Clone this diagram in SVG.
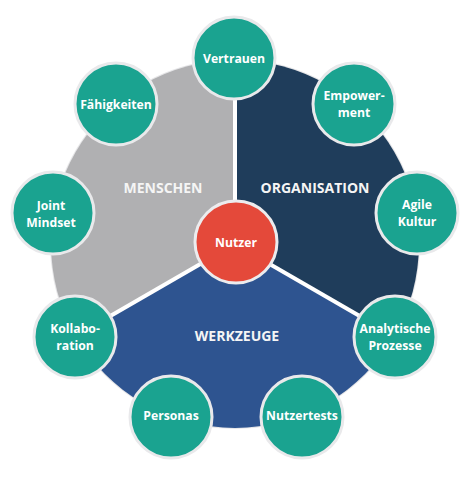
<svg xmlns="http://www.w3.org/2000/svg" width="474" height="481" viewBox="0 0 474 481">
<style>
.node circle{fill:#1aa390;stroke:#e9e9eb;stroke-width:3}
.node text,.hub text{font-family:"Open Sans","Liberation Sans",sans-serif;font-weight:700;font-size:12.2px;fill:#ffffff;text-anchor:middle}
.sec{font-family:"Open Sans","Liberation Sans",sans-serif;font-weight:700;font-size:14px;fill:#f5f5f5;text-anchor:middle}
.div{stroke:#ffffff;stroke-width:4}
</style>
<rect width="474" height="481" fill="#ffffff"/>
<g id="disc">
<circle cx="235" cy="244" r="185" fill="#e6e6e8"/>
<path id="organisation" d="M235,244 L235,60 A184,184 0 0 1 394.3,336 Z" fill="#1f3d5b"/>
<path id="werkzeuge" d="M235,244 L394.3,336 A184,184 0 0 1 75.7,336 Z" fill="#2e5490"/>
<path id="menschen" d="M235,244 L75.7,336 A184,184 0 0 1 235,60 Z" fill="#b0b0b2"/>
</g>
<g id="connectors">
<line class="div" x1="235" y1="244" x2="235" y2="58"/>
<line class="div" x1="235" y1="244" x2="396" y2="337"/>
<line class="div" x1="235" y1="244" x2="74" y2="337"/>
</g>
<text class="sec" x="163" y="193">MENSCHEN</text>
<text class="sec" x="315" y="193">ORGANISATION</text>
<text class="sec" x="237" y="341">WERKZEUGE</text>
<g id="vertrauen" class="node"><circle cx="234" cy="58" r="41"/><text x="234" y="63">Vertrauen</text></g>
<g id="empowerment" class="node"><circle cx="354" cy="104" r="41"/><text x="354" y="100">Empower-</text><text x="354" y="117">ment</text></g>
<g id="agile" class="node"><circle cx="417" cy="213" r="41"/><text x="417" y="209">Agile</text><text x="417" y="226">Kultur</text></g>
<g id="analytische" class="node"><circle cx="395" cy="337" r="41"/><text x="395" y="333">Analytische</text><text x="395" y="350">Prozesse</text></g>
<g id="nutzertests" class="node"><circle cx="302" cy="417" r="41"/><text x="302" y="420">Nutzertests</text></g>
<g id="personas" class="node"><circle cx="171" cy="417" r="41"/><text x="171" y="420">Personas</text></g>
<g id="kollaboration" class="node"><circle cx="75" cy="337" r="41"/><text x="75" y="333">Kollabo-</text><text x="75" y="350">ration</text></g>
<g id="joint" class="node"><circle cx="53" cy="213" r="41"/><text x="51" y="210">Joint</text><text x="51" y="227">Mindset</text></g>
<g id="faehigkeiten" class="node"><circle cx="116" cy="104" r="41"/><text x="116" y="109">Fähigkeiten</text></g>
<g id="nutzer" class="hub"><circle cx="236" cy="242" r="41" fill="#e4493a" stroke="#ececee" stroke-width="3"/><text x="236" y="247">Nutzer</text></g>
</svg>
